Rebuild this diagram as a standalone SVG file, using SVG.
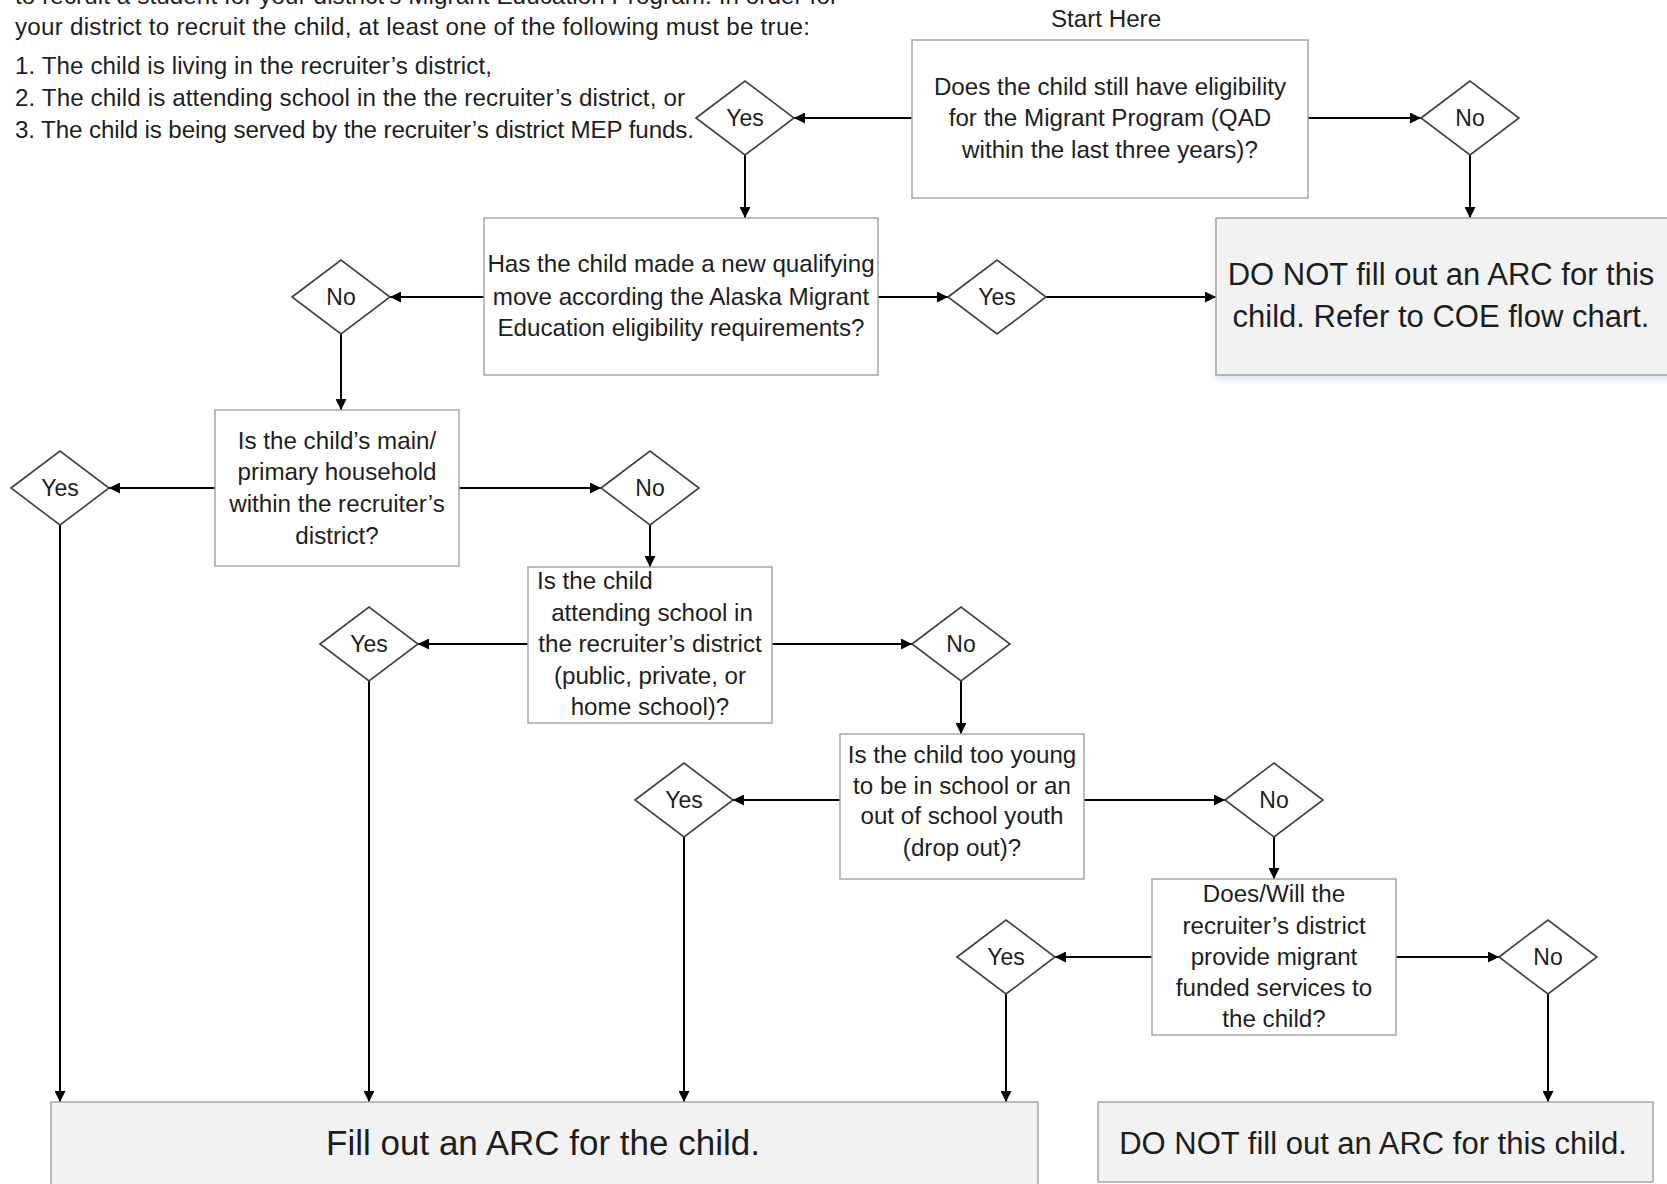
<svg xmlns="http://www.w3.org/2000/svg" width="1667" height="1184" viewBox="0 0 1667 1184">
<style>
text{font-family:"Liberation Sans",Arial,sans-serif;fill:#1e1e1e}
.t{font-size:24.2px;text-anchor:middle}
.p{font-size:24.2px}
.d{font-size:23px;text-anchor:middle}
.big{font-size:31px;text-anchor:middle}
.box{fill:#fff;stroke:#a6a6a6;stroke-width:1.5}
.gbox{fill:#f2f2f2;stroke:#a6a6a6;stroke-width:1.5}
.dia{fill:#fff;stroke:#404040;stroke-width:1.6}
.c{stroke:#000;stroke-width:2;fill:none;marker-end:url(#ah)}
</style>
<defs>
<marker id="ah" viewBox="0 0 10 10" refX="10" refY="5" markerWidth="13" markerHeight="11" markerUnits="userSpaceOnUse" orient="auto">
<path d="M0,0 L10,5 L0,10 z" fill="#000"/>
</marker>
<filter id="sh" x="-5%" y="-5%" width="110%" height="120%">
<feDropShadow dx="0" dy="4" stdDeviation="3" flood-color="#9bb4d6" flood-opacity="0.35"/>
</filter>
</defs>

<g id="intro">
<text class="p" x="15" y="4" textLength="823">to recruit a student for your district’s Migrant Education Program. In order for</text>
<text class="p" x="15" y="35" textLength="795">your district to recruit the child, at least one of the following must be true:</text>
<text class="p" x="15" y="74" textLength="477">1. The child is living in the recruiter’s district,</text>
<text class="p" x="15" y="106" textLength="670">2. The child is attending school in the the recruiter’s district, or</text>
<text class="p" x="15" y="138" textLength="679">3. The child is being served by the recruiter’s district MEP funds.</text>
</g>

<g id="start-label"><text class="t" x="1106" y="27">Start Here</text></g>

<g id="connectors">
<path class="c" d="M912,118 H794"/>
<path class="c" d="M1308,118 H1421"/>
<path class="c" d="M745,155 V218"/>
<path class="c" d="M1470,155 V218"/>
<path class="c" d="M484,297 H390"/>
<path class="c" d="M878,297 H948"/>
<path class="c" d="M1046,297 H1216"/>
<path class="c" d="M341,334 V410"/>
<path class="c" d="M215,488 H109"/>
<path class="c" d="M459,488 H601"/>
<path class="c" d="M60,525 V1102"/>
<path class="c" d="M650,525 V567"/>
<path class="c" d="M528,644 H418"/>
<path class="c" d="M772,644 H912"/>
<path class="c" d="M369,681 V1102"/>
<path class="c" d="M961,681 V734"/>
<path class="c" d="M840,800 H733"/>
<path class="c" d="M1084,800 H1225"/>
<path class="c" d="M684,837 V1102"/>
<path class="c" d="M1274,837 V879"/>
<path class="c" d="M1152,957 H1055"/>
<path class="c" d="M1396,957 H1499"/>
<path class="c" d="M1006,994 V1102"/>
<path class="c" d="M1548,994 V1102"/>
</g>

<g id="q1">
<rect class="box" x="912" y="40" width="396" height="158"/>
<text class="t" x="1110" y="95">Does the child still have eligibility</text>
<text class="t" x="1110" y="126">for the Migrant Program (QAD</text>
<text class="t" x="1110" y="158">within the last three years)?</text>
</g>
<g id="q1-yes"><polygon class="dia" points="696,118 745,81 794,118 745,155"/><text class="d" x="745" y="126">Yes</text></g>
<g id="q1-no"><polygon class="dia" points="1421,118 1470,81 1519,118 1470,155"/><text class="d" x="1470" y="126">No</text></g>

<g id="q2">
<rect class="box" x="484" y="218" width="394" height="157"/>
<text class="t" x="681" y="272">Has the child made a new qualifying</text>
<text class="t" x="681" y="305">move according the Alaska Migrant</text>
<text class="t" x="681" y="336">Education eligibility requirements?</text>
</g>
<g id="q2-no"><polygon class="dia" points="292,297 341,260 390,297 341,334"/><text class="d" x="341" y="305">No</text></g>
<g id="q2-yes"><polygon class="dia" points="948,297 997,260 1046,297 997,334"/><text class="d" x="997" y="305">Yes</text></g>

<g id="coe">
<rect class="gbox" x="1216" y="218" width="460" height="157" filter="url(#sh)"/>
<text class="big" x="1441" y="285">DO NOT fill out an ARC for this</text>
<text class="big" x="1441" y="327">child. Refer to COE flow chart.</text>
</g>

<g id="q3">
<rect class="box" x="215" y="410" width="244" height="156"/>
<text class="t" x="337" y="449">Is the child’s main/</text>
<text class="t" x="337" y="480">primary household</text>
<text class="t" x="337" y="512">within the recruiter’s</text>
<text class="t" x="337" y="544">district?</text>
</g>
<g id="q3-yes"><polygon class="dia" points="11,488 60,451 109,488 60,525"/><text class="d" x="60" y="496">Yes</text></g>
<g id="q3-no"><polygon class="dia" points="601,488 650,451 699,488 650,525"/><text class="d" x="650" y="496">No</text></g>

<g id="q4">
<rect class="box" x="528" y="567" width="244" height="156"/>
<text class="p" x="537" y="589">Is the child</text>
<text class="t" x="652" y="621">attending school in</text>
<text class="t" x="650" y="652">the recruiter’s district</text>
<text class="t" x="650" y="684">(public, private, or</text>
<text class="t" x="650" y="715">home school)?</text>
</g>
<g id="q4-yes"><polygon class="dia" points="320,644 369,607 418,644 369,681"/><text class="d" x="369" y="652">Yes</text></g>
<g id="q4-no"><polygon class="dia" points="912,644 961,607 1010,644 961,681"/><text class="d" x="961" y="652">No</text></g>

<g id="q5">
<rect class="box" x="840" y="734" width="244" height="145"/>
<text class="t" x="962" y="763">Is the child too young</text>
<text class="t" x="962" y="794">to be in school or an</text>
<text class="t" x="962" y="824">out of school youth</text>
<text class="t" x="962" y="856">(drop out)?</text>
</g>
<g id="q5-yes"><polygon class="dia" points="635,800 684,763 733,800 684,837"/><text class="d" x="684" y="808">Yes</text></g>
<g id="q5-no"><polygon class="dia" points="1225,800 1274,763 1323,800 1274,837"/><text class="d" x="1274" y="808">No</text></g>

<g id="q6">
<rect class="box" x="1152" y="879" width="244" height="156"/>
<text class="t" x="1274" y="902">Does/Will the</text>
<text class="t" x="1274" y="934">recruiter’s district</text>
<text class="t" x="1274" y="965">provide migrant</text>
<text class="t" x="1274" y="996">funded services to</text>
<text class="t" x="1274" y="1027">the child?</text>
</g>
<g id="q6-yes"><polygon class="dia" points="957,957 1006,920 1055,957 1006,994"/><text class="d" x="1006" y="965">Yes</text></g>
<g id="q6-no"><polygon class="dia" points="1499,957 1548,920 1597,957 1548,994"/><text class="d" x="1548" y="965">No</text></g>

<g id="fill-arc">
<rect class="gbox" x="51" y="1102" width="987" height="95"/>
<text class="big" x="543" y="1155" style="font-size:35px">Fill out an ARC for the child.</text>
</g>
<g id="no-arc">
<rect class="gbox" x="1098" y="1102" width="555" height="80"/>
<text class="big" x="1373" y="1154">DO NOT fill out an ARC for this child.</text>
</g>
</svg>
